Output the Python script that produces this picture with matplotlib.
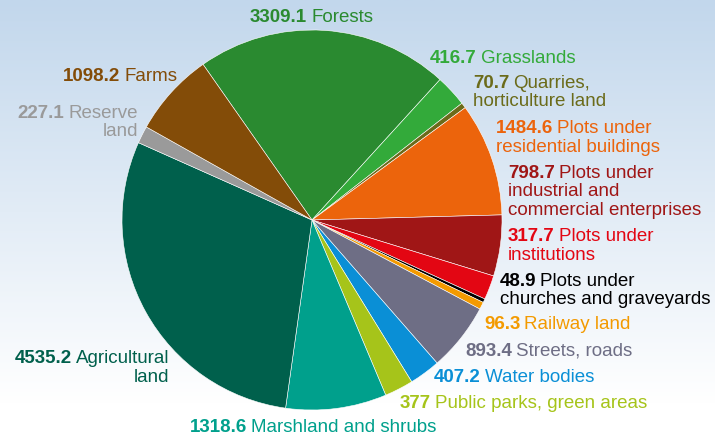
import numpy as np
import matplotlib
matplotlib.use("Agg")
import matplotlib.pyplot as plt
from matplotlib.colors import LinearSegmentedColormap

plt.rcParams['font.family'] = ['Liberation Sans', 'DejaVu Sans']

categories = ["Forests", "Grasslands", "Quarries,\nhorticulture land",
              "Plots under\nresidential buildings",
              "Plots under\nindustrial and\ncommercial enterprises",
              "Plots under\ninstitutions",
              "Plots under\nchurches and graveyards",
              "Railway land", "Streets, roads", "Water bodies",
              "Public parks, green areas", "Marshland and shrubs",
              "Agricultural\nland", "Reserve\nland", "Farms"]
values = [3309.1, 416.7, 70.7, 1484.6, 798.7, 317.7, 48.9, 96.3, 893.4,
          407.2, 377, 1318.6, 4535.2, 227.1, 1098.2]
value_labels = ["3309.1", "416.7", "70.7", "1484.6", "798.7", "317.7", "48.9",
                "96.3", "893.4", "407.2", "377", "1318.6", "4535.2", "227.1",
                "1098.2"]
colors = ["#2a8a30", "#33aa3a", "#6b6b1a", "#ec640c", "#a01616", "#e30613",
          "#000000", "#f39a00", "#6e6e85", "#0a8fd6", "#a6c41a", "#00a08c",
          "#00604c", "#9a9a9a", "#834c08"]
label_colors = ["#2a8a30", "#33aa3a", "#6b6b1a", "#ec640c", "#a01616", "#e30613",
                "#000000", "#f39a00", "#6e6e85", "#0a8fd6", "#a6c41a", "#00a08c",
                "#00604c", "#9a9a9a", "#834c08"]

# label layout (pixels): x anchor, y center of first line, alignment
label_pos = [(250, 16, 'left'), (430, 57, 'left'), (473, 82, 'left'),
             (496, 127, 'left'), (508, 172, 'left'), (508, 235, 'left'),
             (500, 280, 'left'), (484, 323, 'left'), (465, 350, 'left'),
             (434, 376, 'left'), (400, 402, 'left'), (190, 426, 'left'),
             (169, 357, 'right'), (138, 112, 'right'), (177, 75, 'right')]

W, H = 715, 438
fig = plt.figure(figsize=(W / 100, H / 100), dpi=100)

# background gradient
bg = fig.add_axes([0, 0, 1, 1])
bg.axis('off')
cmap = LinearSegmentedColormap.from_list('bg', [(0, '#c2d7ec'), (0.92, '#ffffff'), (1, '#ffffff')])
grad = np.linspace(0, 1, 256).reshape(-1, 1)
bg.imshow(grad, extent=[0, W, H, 0], aspect='auto', cmap=cmap, zorder=0)
bg.set_xlim(0, W)
bg.set_ylim(H, 0)

# pie
cx, cy, r = 312, 220, 190
pax = fig.add_axes([(cx - r) / W, (H - cy - r) / H, 2 * r / W, 2 * r / H])
pax.pie(values, colors=colors, startangle=125, counterclock=False,
        wedgeprops=dict(edgecolor='white', linewidth=0.4))
pax.set_xlim(-1, 1)
pax.set_ylim(-1, 1)
pax.set_aspect('equal')
pax.axis('off')

renderer = fig.canvas.get_renderer()
fs = 13.5
lh = 18.5


def put_label(x, yc, num, text, color, ha):
    lines = text.split('\n')
    yb = yc + 6
    if ha == 'left':
        t = bg.text(x, yb, num, color=color, fontsize=fs, fontweight='bold',
                    ha='left', va='baseline')
        w = t.get_window_extent(renderer).width
        bg.text(x + w + 4, yb, lines[0], color=color, fontsize=fs,
                ha='left', va='baseline')
    else:
        t = bg.text(x, yb, lines[0], color=color, fontsize=fs,
                    ha='right', va='baseline')
        w = t.get_window_extent(renderer).width
        bg.text(x - w - 4, yb, num, color=color, fontsize=fs, fontweight='bold',
                ha='right', va='baseline')
    for i, ln in enumerate(lines[1:], start=1):
        bg.text(x, yb + lh * i, ln, color=color, fontsize=fs, ha=ha, va='baseline')


for cat, vl, col, (x, y, ha) in zip(categories, value_labels, label_colors, label_pos):
    put_label(x, y, vl, cat, col, ha)

fig.savefig("out.png", dpi=100)
